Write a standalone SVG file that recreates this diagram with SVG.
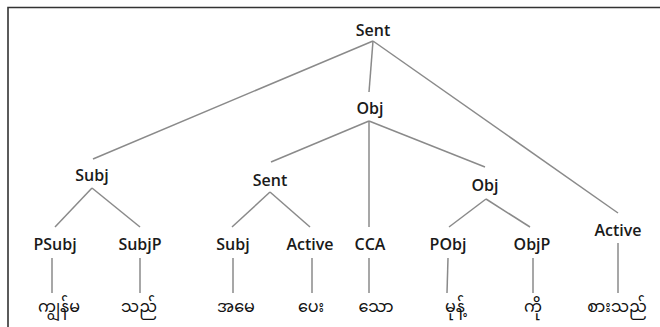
<svg xmlns="http://www.w3.org/2000/svg" width="660" height="327" viewBox="0 0 660 327">
<style>
.lbl{font-family:"Open Sans","DejaVu Sans",sans-serif;font-size:16px;font-weight:600;fill:#1a1a1a;text-anchor:middle}
.my{font-family:"Noto Sans Myanmar","Padauk","Myanmar Text","Noto Sans",sans-serif;font-size:16px;fill:#111;text-anchor:middle}
.e{stroke:#8a8a8a;stroke-width:1.5;fill:none}
.frame{stroke:#333;stroke-width:1.6;fill:none}
</style>
<rect width="660" height="327" fill="#fff"/>
<path class="frame" d="M8,327 V7.5 H660"/>
<g id="connectors">
<line class="e" x1="373" y1="41" x2="93" y2="159"/>
<line class="e" x1="373" y1="41" x2="369" y2="92"/>
<line class="e" x1="373" y1="41" x2="618" y2="213"/>
<line class="e" x1="369" y1="121" x2="271" y2="162"/>
<line class="e" x1="369" y1="121" x2="369" y2="227"/>
<line class="e" x1="369" y1="121" x2="485" y2="167"/>
<line class="e" x1="92" y1="188" x2="55" y2="227"/>
<line class="e" x1="92" y1="188" x2="140" y2="227"/>
<line class="e" x1="270" y1="192" x2="232" y2="227"/>
<line class="e" x1="270" y1="192" x2="310" y2="227"/>
<line class="e" x1="486" y1="199" x2="449" y2="227"/>
<line class="e" x1="486" y1="199" x2="530" y2="227"/>
<line class="e" x1="52" y1="258" x2="52" y2="293"/>
<line class="e" x1="140" y1="258" x2="140" y2="293"/>
<line class="e" x1="233" y1="258" x2="233" y2="293"/>
<line class="e" x1="312" y1="258" x2="312" y2="293"/>
<line class="e" x1="369" y1="258" x2="369" y2="293"/>
<line class="e" x1="448" y1="258" x2="447" y2="293"/>
<line class="e" x1="533" y1="258" x2="533" y2="293"/>
<line class="e" x1="618" y1="243" x2="618" y2="293"/>
</g>
<g id="n-sent"><text class="lbl" x="373" y="36">Sent</text></g>
<g id="n-obj"><text class="lbl" x="370" y="114">Obj</text></g>
<g id="n-subj"><text class="lbl" x="92" y="181">Subj</text></g>
<g id="n-sent2"><text class="lbl" x="270" y="186">Sent</text></g>
<g id="n-obj2"><text class="lbl" x="485" y="191">Obj</text></g>
<g id="n-active"><text class="lbl" x="618" y="236">Active</text></g>
<g id="n-psubj"><text class="lbl" x="55" y="250">PSubj</text></g>
<g id="n-subjp"><text class="lbl" x="140" y="250">SubjP</text></g>
<g id="n-subj2"><text class="lbl" x="233" y="250">Subj</text></g>
<g id="n-active2"><text class="lbl" x="310" y="250">Active</text></g>
<g id="n-cca"><text class="lbl" x="370" y="250">CCA</text></g>
<g id="n-pobj"><text class="lbl" x="448" y="250">PObj</text></g>
<g id="n-objp"><text class="lbl" x="532" y="250">ObjP</text></g>
<g id="w1"><text class="my" x="59" y="312">ကျွန်မ</text></g>
<g id="w2"><text class="my" x="139" y="312">သည်</text></g>
<g id="w3"><text class="my" x="236" y="312">အမေ</text></g>
<g id="w4"><text class="my" x="311" y="312">ပေး</text></g>
<g id="w5"><text class="my" x="376" y="312">သော</text></g>
<g id="w6"><text class="my" x="455" y="312">မုန့်</text></g>
<g id="w7"><text class="my" x="533" y="312">ကို</text></g>
<g id="w8"><text class="my" x="617" y="312">စားသည်</text></g>
</svg>
